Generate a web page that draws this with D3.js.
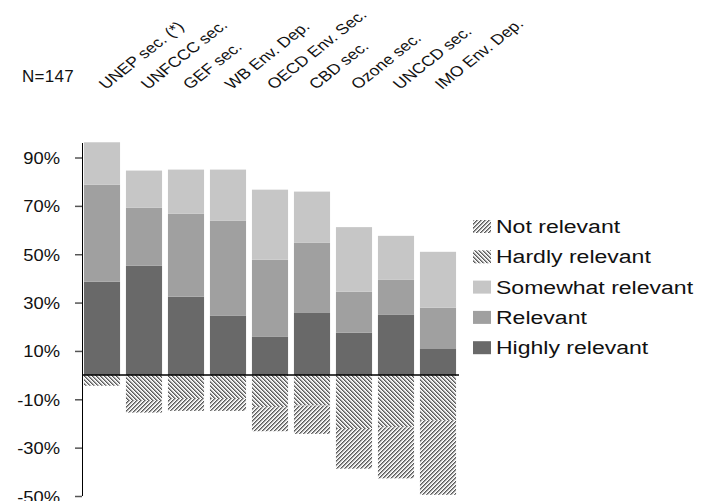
<!DOCTYPE html>
<html>
<head>
<meta charset="utf-8">
<script src="https://cdn.jsdelivr.net/npm/d3@7/dist/d3.min.js"></script>
<style>
  html, body { margin: 0; padding: 0; background: #fff; }
  svg { display: block; }
  text { font-family: "Liberation Sans", Arial, sans-serif; fill: #111; }
</style>
</head>
<body>
<svg id="chart" width="707" height="501"></svg>
<script>
// Survey: relevance of each secretariat (share of respondents, %)
const categories = ["UNEP sec. (*)", "UNFCCC sec.", "GEF sec.", "WB Env. Dep.", "OECD Env. Sec.",
                    "CBD sec.", "Ozone sec.", "UNCCD sec.", "IMO Env. Dep."];
const highlyRelevant   = [38.6, 45.2, 32.4, 24.5, 15.8, 25.7, 17.5, 24.9, 10.8];
const relevant         = [40.2, 24.0, 34.3, 39.3, 31.9, 29.0, 17.0, 14.5, 17.1];
const somewhatRelevant = [17.5, 15.4, 18.3, 21.2, 29.0, 21.2, 26.7, 18.2, 23.1];
const hardlyRelevant   = [4.4, 10.3, 9.9, 9.9, 13.3, 12.6, 22.3, 21.6, 18.9];
const notRelevant      = [0.0, 5.2, 4.9, 4.9, 9.9, 11.7, 16.4, 21.1, 30.6];
const yTicks = [-50, -30, -10, 10, 30, 50, 70, 90];
const legendLabels = ["Not relevant", "Hardly relevant", "Somewhat relevant", "Relevant", "Highly relevant"];
const sampleNote = "N=147";

const svg = d3.select("#chart");
const SX = 1.28; // horizontal stretch applied to legend text

const x = d3.scaleBand().domain(categories).range([81, 459]).paddingInner(0.14).paddingOuter(0.07);
const y = d3.scaleLinear().domain([-50, 96]).range([496, 143]);

// fine hatch patterns for the negative answers
const defs = svg.append("defs");
const shade = ["#5a5a5a", "#9a9a9a", "#e2e2e2", "#ffffff"];
function hatch(id, dir) {
  const p = defs.append("pattern").attr("id", id).attr("patternUnits", "userSpaceOnUse")
    .attr("width", 4).attr("height", 4);
  for (let i = 0; i < 4; i++) {
    for (let j = 0; j < 4; j++) {
      const k = dir > 0 ? (i + j) % 4 : ((i - j) % 4 + 4) % 4;
      p.append("rect").attr("x", i).attr("y", j).attr("width", 1).attr("height", 1)
        .attr("fill", shade[k]);
    }
  }
}
hatch("patNot", 1);
hatch("patHardly", -1);

const positive = [
  { key: "Highly relevant", values: highlyRelevant, fill: "#696969" },
  { key: "Relevant", values: relevant, fill: "#a0a0a0" },
  { key: "Somewhat relevant", values: somewhatRelevant, fill: "#c6c6c6" }
];
const negative = [
  { key: "Hardly relevant", values: hardlyRelevant, fill: "url(#patHardly)" },
  { key: "Not relevant", values: notRelevant, fill: "url(#patNot)" }
];

const bars = svg.append("g");
categories.forEach((c, i) => {
  let base = 0;
  positive.forEach(s => {
    const v = s.values[i];
    bars.append("rect").attr("x", x(c)).attr("width", x.bandwidth())
      .attr("y", y(base + v)).attr("height", y(base) - y(base + v)).attr("fill", s.fill);
    base += v;
  });
  base = 0;
  negative.forEach(s => {
    const v = s.values[i];
    if (v <= 0) return;
    bars.append("rect").attr("x", x(c)).attr("width", x.bandwidth())
      .attr("y", y(base)).attr("height", y(base - v) - y(base)).attr("fill", s.fill);
    base -= v;
  });
});

// y axis
const yAxis = d3.axisLeft(y).tickValues(yTicks).tickSize(7).tickPadding(0).tickFormat(d => d + "%");
const ga = svg.append("g").attr("transform", "translate(82,0)").call(yAxis);
ga.select(".domain").attr("stroke", "#000").attr("d", `M0.5,${y(96)}V${y(-50)}`);
ga.selectAll(".tick line").attr("stroke", "#555").attr("stroke-width", 1.5);
ga.selectAll(".tick text").each(function() {
  const t = d3.select(this);
  t.attr("x", null).attr("dy", null).attr("text-anchor", "end")
   .attr("font-size", 17).attr("font-family", null).attr("fill", "#111")
   .attr("transform", `translate(-22,6) scale(1.08,1)`);
});

// zero line
svg.append("line").attr("x1", 82).attr("x2", 459).attr("y1", y(0)).attr("y2", y(0))
  .attr("stroke", "#000").attr("stroke-width", 1.5);

// sample size
svg.append("text").attr("transform", `translate(22,82)`)
  .attr("font-size", 17).attr("letter-spacing", 0.3).text(sampleNote);

// rotated category labels
categories.forEach(c => {
  svg.append("text")
    .attr("transform", `translate(${x(c) + x.bandwidth() / 2 + 4},90) scale(1.22,1) rotate(-44)`)
    .attr("font-size", 14.5).text(c);
});

// legend
const legendItems = [
  { label: legendLabels[0], fill: "url(#patNot)" },
  { label: legendLabels[1], fill: "url(#patHardly)" },
  { label: legendLabels[2], fill: "#c6c6c6" },
  { label: legendLabels[3], fill: "#a0a0a0" },
  { label: legendLabels[4], fill: "#696969" }
];
const lg = svg.append("g");
legendItems.forEach((d, i) => {
  const by = 233 + i * 30.3;
  lg.append("rect").attr("x", 473).attr("y", by - 13).attr("width", 18).attr("height", 13).attr("fill", d.fill);
  lg.append("text").attr("transform", `translate(496,${by}) scale(${SX},1)`)
    .attr("font-size", 18).text(d.label);
});
</script>
</body>
</html>
